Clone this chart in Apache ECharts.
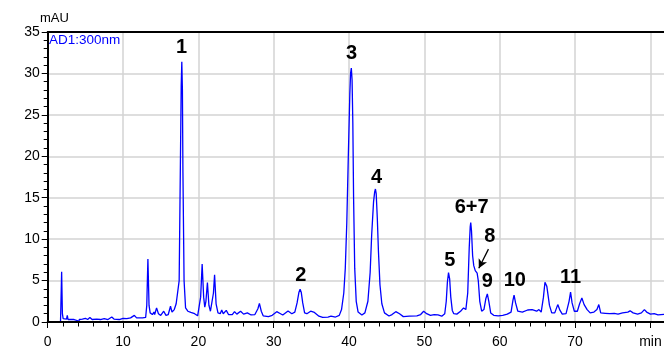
<!DOCTYPE html>
<html>
<head>
<meta charset="utf-8">
<script src="https://cdn.jsdelivr.net/npm/echarts@6/dist/echarts.min.js"></script>
<style>
  html, body { margin: 0; padding: 0; background: #ffffff; }
  #chart { width: 664px; height: 350px; }
</style>
</head>
<body>
<div id="chart"></div>
<script>
// retention time (min) and absorbance (mAU)
const times = [
  0, 1.7, 1.75, 1.85, 1.95, 2.05, 2.5, 2.6, 2.7, 3.5, 4.0, 4.1, 4.2, 4.6, 5.0, 5.3, 5.6, 5.9,
  6.5, 7.0, 7.5, 8.0, 8.5, 8.8, 9.5, 10.0, 10.5, 11.0, 11.5, 11.8, 12.2, 12.6, 13.0, 13.15,
  13.3, 13.45, 13.6, 13.9, 14.1, 14.2, 14.45, 14.7, 15.0, 15.4, 15.7, 16.0, 16.3, 16.5, 16.8,
  17.05, 17.25, 17.45, 17.6, 17.72, 17.8, 17.88, 17.95, 18.1, 18.3, 18.6, 19.0, 19.5, 19.9,
  20.1, 20.3, 20.5, 20.7, 20.85, 21.0, 21.2, 21.4, 21.6, 21.8, 22.0, 22.15, 22.35, 22.6, 22.9,
  23.1, 23.3, 23.7, 24.0, 24.5, 24.8, 25.1, 25.6, 26.0, 26.5, 27.0, 27.5, 27.9, 28.1, 28.35,
  28.6, 29.3, 29.8, 30.4, 30.9, 31.2, 31.9, 32.4, 32.8, 33.1, 33.35, 33.5, 33.65, 33.85, 34.1,
  34.4, 34.9, 35.4, 36.0, 36.5, 37.2, 37.6, 38.2, 38.7, 39.0, 39.3, 39.5, 39.7, 39.9, 40.1,
  40.2, 40.3, 40.4, 40.5, 40.6, 40.75, 40.95, 41.2, 41.7, 42.1, 42.5, 42.8, 43.0, 43.25, 43.4,
  43.5, 43.6, 43.75, 43.9, 44.1, 44.35, 44.7, 45.3, 45.7, 46.2, 46.7, 47.2, 48.0, 49.0, 49.5,
  49.9, 50.3, 50.8, 51.3, 51.8, 52.3, 52.7, 52.9, 53.05, 53.2, 53.35, 53.5, 53.7, 53.9, 54.3,
  54.8, 55.2, 55.5, 55.75, 55.95, 56.08, 56.15, 56.25, 56.4, 56.55, 56.75, 57.0, 57.15, 57.35,
  57.6, 57.9, 58.15, 58.35, 58.55, 58.8, 59.2, 59.8, 60.4, 61.0, 61.5, 61.75, 61.9, 62.1, 62.4,
  63.0, 63.7, 64.3, 64.9, 65.2, 65.5, 65.8, 66.0, 66.25, 66.6, 66.9, 67.3, 67.7, 68.0, 68.3,
  68.8, 69.2, 69.4, 69.6, 69.9, 70.3, 70.6, 70.9, 71.2, 71.6, 72.0, 72.5, 72.9, 73.15, 73.4,
  74.0, 74.6, 75.2, 75.7, 76.3, 77.0, 77.3, 77.7, 78.3, 78.8, 79.2, 79.5, 80.0, 80.5, 81.0, 82.0
]
const absorbance = [
  0, 0, 2.0, 6.05, 1.0, 0.4, 0.35, 0.8, 0.3, 0.3, 0.15, -0.1, 0.3, 0.35, 0.45, 0.3, 0.55, 0.3,
  0.35, 0.3, 0.4, 0.3, 0.6, 0.35, 0.3, 0.45, 0.4, 0.5, 0.8, 0.5, 0.5, 0.5, 0.55, 2.0,
  7.6, 2.0, 1.1, 0.9, 1.2, 0.9, 1.7, 1.0, 0.8, 1.3, 0.8, 0.9, 1.9, 1.2, 1.5,
  2.2, 2.0, 5.0, 18, 28.5, 31.4, 28, 18, 5.0, 1.7, 1.3, 1.15, 1.0, 0.75,
  0.9, 3.0, 7.0, 3.0, 1.8, 2.5, 4.75, 2.0, 1.3, 1.5, 3.5, 5.7, 2.2, 1.1, 1.0,
  1.45, 1.0, 1.4, 0.9, 0.9, 1.25, 0.95, 1.3, 0.95, 1.1, 0.85, 0.9, 1.6, 2.25, 1.3,
  0.75, 0.65, 0.8, 1.25, 1.0, 0.85, 1.33, 1.0, 1.2, 2.3, 3.6, 3.95, 3.6, 2.3, 1.1,
  1.0, 1.3, 1.15, 0.7, 0.55, 0.6, 0.7, 0.6, 0.8, 1.5, 3.5, 6.5, 12, 20, 27.5,
  30.0, 30.65, 29.2, 24, 15, 6.5, 2.5, 1.2, 0.85, 1.1, 2.5, 6, 10.5, 14.5, 15.7,
  16.05, 15.5, 12.5, 8.5, 4.5, 2.2, 1.1, 0.72, 0.9, 1.25, 1.0, 0.65, 0.7, 0.75, 0.9,
  1.3, 1.0, 0.8, 0.9, 0.85, 0.7, 1.0, 2.5, 4.8, 5.95, 5.2, 3.0, 1.4, 1.0, 0.95,
  1.3, 1.7, 1.5, 3.5, 9, 11.5, 12.0, 11.0, 8.0, 6.8, 6.2, 5.9, 5.0, 2.5,
  1.3, 1.5, 2.8, 3.4, 2.5, 1.1, 0.8, 0.75, 0.8, 0.95, 1.2, 2.6, 3.25, 2.3, 1.3,
  1.2, 1.45, 1.5, 1.3, 1.5, 1.2, 3.0, 4.8, 4.3, 2.0, 1.1, 1.1, 2.1, 1.4, 0.95,
  1.0, 2.5, 3.6, 2.3, 1.3, 1.3, 2.2, 2.9, 2.1, 1.5, 1.1, 1.2, 1.5, 2.1, 1.1,
  1.05, 1.0, 1.05, 0.95, 1.1, 1.2, 1.35, 1.1, 0.95, 1.1, 1.5, 1.2, 0.95, 1.0, 0.85, 0.95
]

// peak numbers and where their labels sit (time, mAU)
const peakNames = ['1', '2', '3', '4', '5', '6+7', '8', '9', '10', '11']
const peakLabelTimes = [17.76, 33.6, 40.34, 43.65, 53.37, 56.27, 58.67, 58.34, 62.0, 69.4]
const peakLabelValues = [33.1, 5.64, 32.4, 17.5, 7.48, 13.82, 10.36, 4.93, 5.03, 5.37]

// arrow pointing to the shoulder of peak 8
const arrowFrom = [58.5, 8.8]
const arrowTo = [57.22, 6.48]

const xTicks = [0, 10, 20, 30, 40, 50, 60, 70, 80]
const yTicks = [0, 5, 10, 15, 20, 25, 30, 35]

const font = 'Liberation Sans, Arial, sans-serif'
const chart = echarts.init(document.getElementById('chart'), null, { renderer: 'canvas' })

const black = { color: '#000', width: 1 }
const frame = { color: '#000', width: 2 }
const gridLine = { color: '#d3d3d3', width: 1.5 }

// x range and y range shared by all the stacked axes
const xRange = { type: 'value', min: 0, max: 82 }
const yRange = { type: 'value', min: 0, max: 35 }
const bare = {
  axisLine: { show: false, onZero: false },
  axisTick: { show: false },
  axisLabel: { show: false },
  splitLine: { show: false },
}

chart.setOption({
  animation: false,
  backgroundColor: '#ffffff',
  textStyle: { fontFamily: font },
  grid: { left: 47.7, right: -1.5, top: 32, bottom: 28, outerBoundsMode: 'none', containLabel: false },
  graphic: [
    {
      type: 'text',
      left: 40,
      top: 12,
      style: { text: 'mAU', fill: '#000', font: '13px ' + font },
    },
    {
      type: 'text',
      left: 49,
      top: 33,
      z: 10,
      style: { text: 'AD1:300nm', fill: '#0000ff', font: '13.5px ' + font },
    },
  ],
  xAxis: [
    {
      // main axis: line, ticks, labels
      ...xRange,
      ...bare,
      interval: 10,
      position: 'bottom',
      z: 5,
      axisLine: { show: true, onZero: false, lineStyle: frame },
      axisTick: { show: true, length: 6, lineStyle: black },
      axisLabel: {
        show: true,
        color: '#000',
        fontSize: 14,
        margin: 13,
        formatter: (v) => (v === 80 ? 'min' : xTicks.includes(v) ? String(v) : ''),
      },
    },
    {
      // minor ticks every 2 min
      ...xRange,
      ...bare,
      interval: 2,
      position: 'bottom',
      z: 5,
      axisTick: { show: true, length: 4.5, lineStyle: black },
    },
    {
      // top frame line
      ...xRange,
      ...bare,
      position: 'top',
      z: 5,
      axisLine: { show: true, onZero: false, lineStyle: frame },
    },
    {
      // vertical grid lines
      ...xRange,
      ...bare,
      interval: 10,
      position: 'bottom',
      z: 0,
      splitLine: { show: true, lineStyle: gridLine },
    },
  ],
  yAxis: [
    {
      ...yRange,
      ...bare,
      interval: 5,
      position: 'left',
      z: 5,
      axisLine: { show: true, onZero: false, lineStyle: frame },
      axisTick: { show: true, length: 6, lineStyle: black },
      axisLabel: {
        show: true,
        color: '#000',
        fontSize: 14,
        margin: 8,
        formatter: (v) => (yTicks.includes(v) ? String(v) : ''),
      },
    },
    {
      // minor ticks every 1 mAU
      ...yRange,
      ...bare,
      interval: 1,
      position: 'left',
      z: 5,
      axisTick: { show: true, length: 4, lineStyle: black },
    },
    {
      // horizontal grid lines
      ...yRange,
      ...bare,
      interval: 5,
      position: 'left',
      z: 0,
      splitLine: { show: true, lineStyle: gridLine },
    },
  ],
  series: [
    {
      type: 'line',
      xAxisIndex: 0,
      yAxisIndex: 0,
      data: times.map((t, i) => [t, absorbance[i]]),
      showSymbol: false,
      smooth: false,
      clip: true,
      lineStyle: { color: '#0000ff', width: 1.3 },
      markPoint: {
        symbol: 'circle',
        symbolSize: 0,
        silent: true,
        label: {
          show: true,
          position: 'inside',
          color: '#000',
          fontSize: 20,
          fontWeight: 'bold',
          fontFamily: font,
          formatter: (p) => p.name,
        },
        data: peakNames.map((name, i) => ({
          name,
          coord: [peakLabelTimes[i], peakLabelValues[i]],
        })),
      },
      markLine: {
        silent: true,
        symbol: ['none', 'arrow'],
        symbolSize: [7, 9],
        label: { show: false },
        lineStyle: { color: '#000', width: 1.3, type: 'solid' },
        data: [[{ coord: arrowFrom }, { coord: arrowTo }]],
      },
    },
  ],
})
</script>
</body>
</html>
